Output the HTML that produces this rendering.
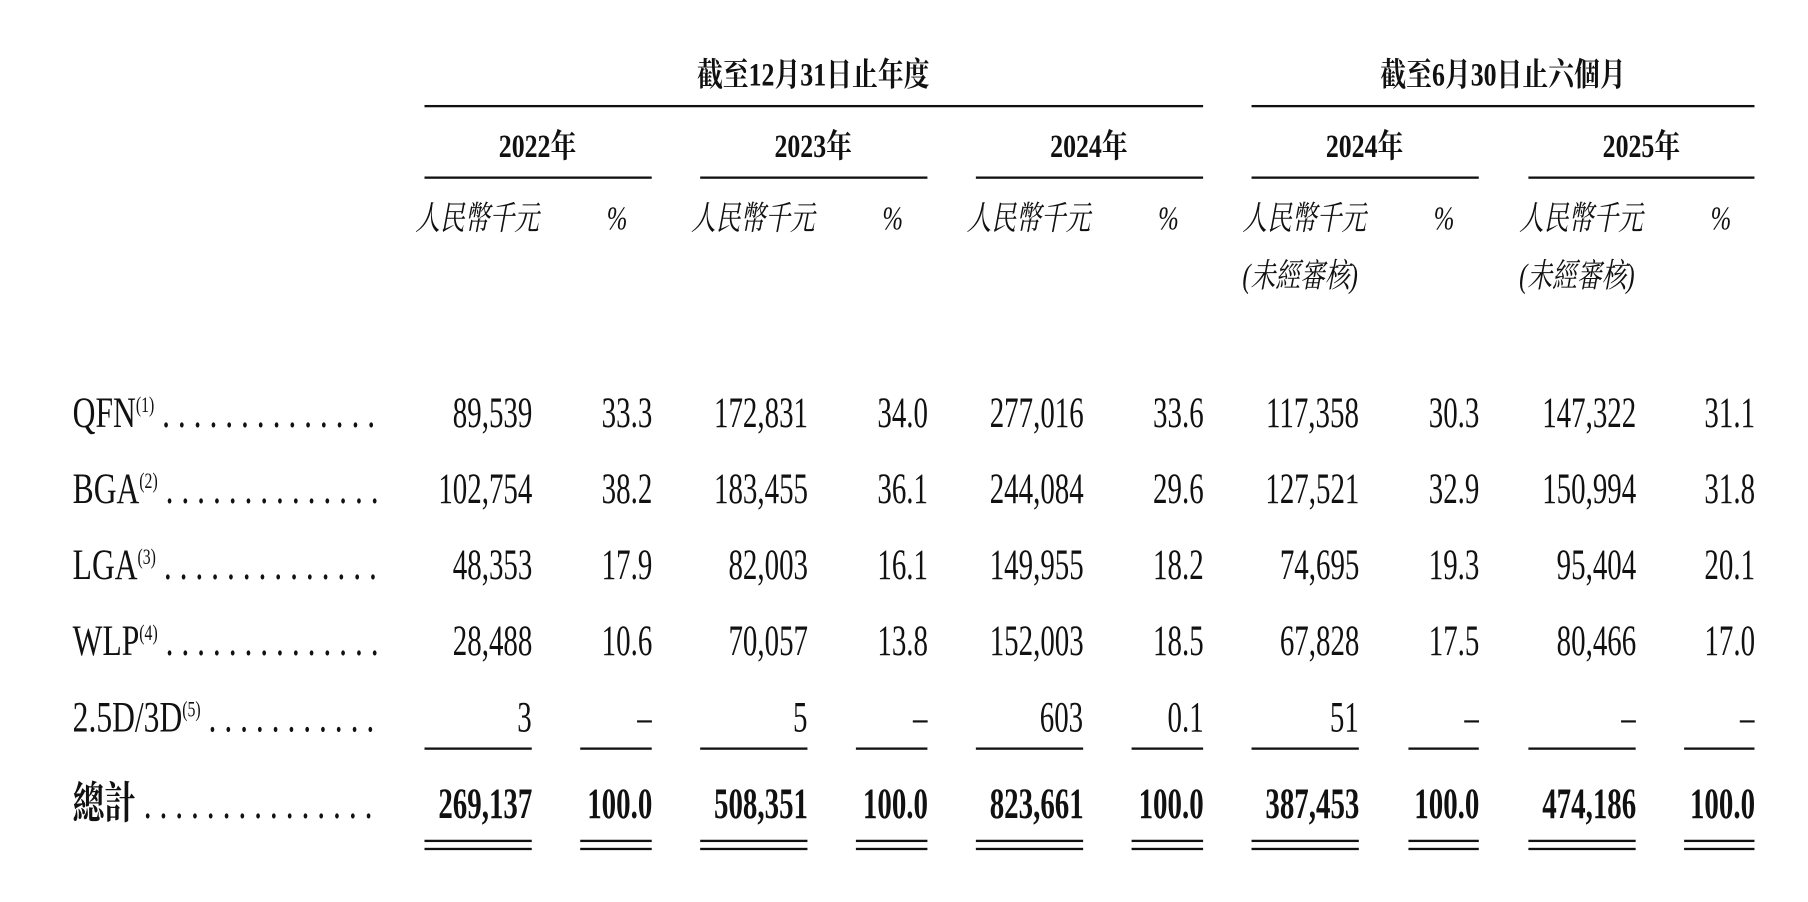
<!DOCTYPE html>
<html><head><meta charset="utf-8"><style>
html,body{margin:0;padding:0;background:#fff;}
body{width:1808px;height:902px;overflow:hidden;position:relative;}
#w{position:absolute;left:0;top:0;width:1560px;height:780px;transform:scale(1.1535);transform-origin:0 0;font-family:"Liberation Serif","Noto Serif CJK SC","Noto Sans CJK TC",serif;color:#111;}
.a{position:absolute;height:40px;line-height:40px;font-size:38px;white-space:nowrap;}
.r{width:300px;text-align:right;}
.r span{display:inline-block;transform:scaleX(.66);transform-origin:right center;}
.c{width:400px;text-align:center;}
.c span{display:inline-block;transform:scaleX(.8);}
.l span{display:inline-block;transform:scaleX(.72);transform-origin:left center;}
.b{font-weight:bold;}
.h{font-size:28px;}
.i{font-style:italic;font-size:29px;}
.i span{display:inline-block;transform:scaleX(.74);transform-origin:left center;}
.ln{position:absolute;height:2px;background:#111;}
sup{font-size:19px;vertical-align:13px;line-height:0;}
</style></head><body><div id="w">
<div class="a c b h" style="left:505px;top:46px"><span>截至12月31日止年度</span></div>
<div class="a c b h" style="left:1103px;top:46px"><span>截至6月30日止六個月</span></div>
<div class="ln" style="left:368px;width:675px;top:91px"></div>
<div class="ln" style="left:1085px;width:436px;top:91px"></div>

<div class="a c b h" style="left:266px;top:108px"><span>2022年</span></div>
<div class="a c b h" style="left:505px;top:108px"><span>2023年</span></div>
<div class="a c b h" style="left:744px;top:108px"><span>2024年</span></div>
<div class="a c b h" style="left:983px;top:108px"><span>2024年</span></div>
<div class="a c b h" style="left:1223px;top:108px"><span>2025年</span></div>
<div class="ln" style="left:368px;width:197px;top:153px"></div>
<div class="ln" style="left:607px;width:197px;top:153px"></div>
<div class="ln" style="left:846px;width:197px;top:153px"></div>
<div class="ln" style="left:1085px;width:197px;top:153px"></div>
<div class="ln" style="left:1325px;width:196px;top:153px"></div>

<div class="a i" style="left:360px;top:170px"><span>人民幣千元</span></div><div class="a i" style="left:526px;top:170px"><span>%</span></div>
<div class="a i" style="left:599px;top:170px"><span>人民幣千元</span></div><div class="a i" style="left:765px;top:170px"><span>%</span></div>
<div class="a i" style="left:838px;top:170px"><span>人民幣千元</span></div><div class="a i" style="left:1004px;top:170px"><span>%</span></div>
<div class="a i" style="left:1077px;top:170px"><span>人民幣千元</span></div><div class="a i" style="left:1243px;top:170px"><span>%</span></div>
<div class="a i" style="left:1317px;top:170px"><span>人民幣千元</span></div><div class="a i" style="left:1483px;top:170px"><span>%</span></div>
<div class="a i" style="left:1077px;top:220px"><span>(未經審核)</span></div>
<div class="a i" style="left:1317px;top:220px"><span>(未經審核)</span></div>

<div class="a l" style="left:63px;top:338px"><span>QFN<sup>(1)</sup> . . . . . . . . . . . . . .</span></div>
<div class="a l" style="left:63px;top:404px"><span>BGA<sup>(2)</sup> . . . . . . . . . . . . . .</span></div>
<div class="a l" style="left:63px;top:470px"><span>LGA<sup>(3)</sup> . . . . . . . . . . . . . .</span></div>
<div class="a l" style="left:63px;top:536px"><span>WLP<sup>(4)</sup> . . . . . . . . . . . . . .</span></div>
<div class="a l" style="left:63px;top:602px"><span>2.5D/3D<sup>(5)</sup> . . . . . . . . . . .</span></div>
<div class="a l b" style="left:63px;top:677px"><span>總計 <span style="font-weight:normal;transform:none">. . . . . . . . . . . . . . .</span></span></div>

<div id="d"></div>
<script>
var rights=[461,565,700,804,939,1043,1178,1282,1418,1521];
var rows=[
[338,["89,539","33.3","172,831","34.0","277,016","33.6","117,358","30.3","147,322","31.1"]],
[404,["102,754","38.2","183,455","36.1","244,084","29.6","127,521","32.9","150,994","31.8"]],
[470,["48,353","17.9","82,003","16.1","149,955","18.2","74,695","19.3","95,404","20.1"]],
[536,["28,488","10.6","70,057","13.8","152,003","18.5","67,828","17.5","80,466","17.0"]],
[602,["3","–","5","–","603","0.1","51","–","–","–"]],
[677,["269,137","100.0","508,351","100.0","823,661","100.0","387,453","100.0","474,186","100.0"],1]];
var h="";
rows.forEach(function(r){r[1].forEach(function(t,i){h+='<div class="a r'+(r[2]?' b':'')+'" style="left:'+(rights[i]-300)+'px;top:'+r[0]+'px"><span>'+t+'</span></div>';});});
var lefts=[368,503,607,742,846,981,1085,1221,1325,1460];
lefts.forEach(function(l,i){var w=rights[i]-l;
h+='<div class="ln" style="left:'+l+'px;width:'+w+'px;top:648px"></div>';
h+='<div class="ln" style="left:'+l+'px;width:'+w+'px;top:728px"></div>';
h+='<div class="ln" style="left:'+l+'px;width:'+w+'px;top:735px"></div>';});
document.getElementById("d").innerHTML=h;
</script>
</div></body></html>
